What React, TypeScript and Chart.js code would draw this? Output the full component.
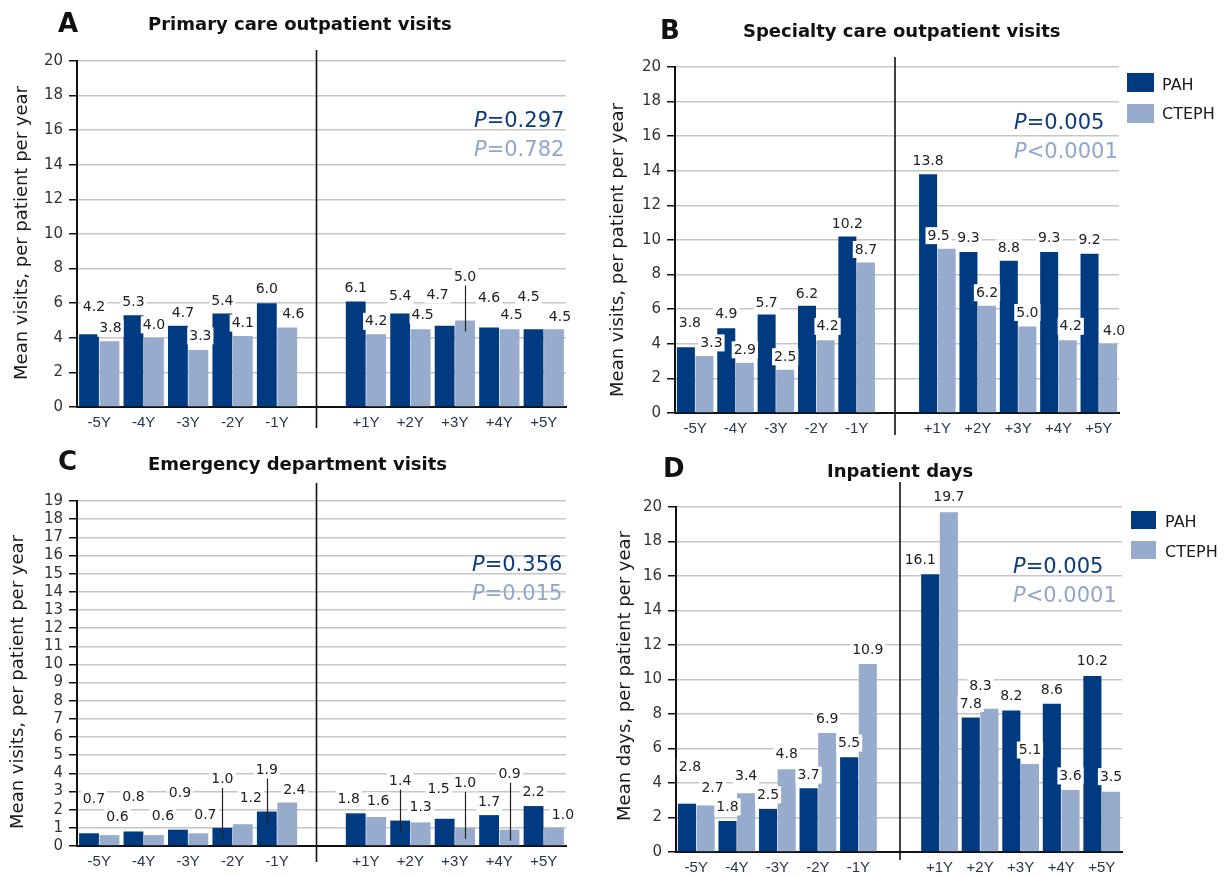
import React, { useEffect, useRef } from 'react';
import { Chart, registerables } from 'chart.js';

Chart.register(...registerables);

// ---------- data ----------
const beforeLabels = ['-5Y', '-4Y', '-3Y', '-2Y', '-1Y'];
const afterLabels = ['+1Y', '+2Y', '+3Y', '+4Y', '+5Y'];
const seriesNames = ['PAH', 'CTEPH'];

const primaryPAH = [4.2, 5.3, 4.7, 5.4, 6.0, 6.1, 5.4, 4.7, 4.6, 4.5];
const primaryCTEPH = [3.8, 4.0, 3.3, 4.1, 4.6, 4.2, 4.5, 5.0, 4.5, 4.5];
const specialtyPAH = [3.8, 4.9, 5.7, 6.2, 10.2, 13.8, 9.3, 8.8, 9.3, 9.2];
const specialtyCTEPH = [3.3, 2.9, 2.5, 4.2, 8.7, 9.5, 6.2, 5.0, 4.2, 4.0];
const emergencyPAH = [0.7, 0.8, 0.9, 1.0, 1.9, 1.8, 1.4, 1.5, 1.7, 2.2];
const emergencyCTEPH = [0.6, 0.6, 0.7, 1.2, 2.4, 1.6, 1.3, 1.0, 0.9, 1.0];
const inpatientPAH = [2.8, 1.8, 2.5, 3.7, 5.5, 16.1, 7.8, 8.2, 8.6, 10.2];
const inpatientCTEPH = [2.7, 3.4, 4.8, 6.9, 10.9, 19.7, 8.3, 5.1, 3.6, 3.5];

// ---------- label placement (px lift above bar top, px x-shift, leader lines) ----------
const primaryPAHLift = [27, 13, 13, 13, 14, 14, 18, 31, 30, 32];
const primaryCTEPHLift = [13, 13, 14, 13, 14, 13, 14, 44, 14, 12];
const primaryPAHDx = [5, 0, 5, 0, 0, 0, 0, -7, 0, -5];
const primaryCTEPHDx = [1, 0, 2, 0, 6, 0, 2, 0, 2, 6];
const primaryPAHLeaders: number[] = [];
const primaryCTEPHLeaders = [7];

const specialtyPAHLift = [24, 14, 12, 12, 13, 13, 14, 13, 14, 14];
const specialtyCTEPHLift = [13, 13, 13, 14, 13, 13, 13, 14, 14, 13];
const specialtyPAHDx = [4, 0, 0, 0, 0, 0, 0, 0, 0, 0];
const specialtyCTEPHDx = [7, 0, 0, 2, 0, -8, 0, 0, 3, 6];
const specialtyPAHLeaders: number[] = [];
const specialtyCTEPHLeaders: number[] = [];

const emergencyPAHLift = [34, 35, 37, 49, 42, 14, 40, 30, 13, 14];
const emergencyCTEPHLift = [18, 19, 18, 26, 13, 16, 16, 45, 56, 13];
const emergencyPAHDx = [5, 0, 2, 0, 0, -7, 0, -6, 0, 0];
const emergencyCTEPHDx = [8, 9, 7, 8, 7, 2, 0, 0, 0, 9];
const emergencyPAHLeaders = [3, 4, 6];
const emergencyCTEPHLeaders = [7, 8];

const inpatientPAHLift = [37, 14, 14, 13, 14, 14, 14, 15, 14, 15];
const inpatientCTEPHLift = [18, 17, 15, 14, 14, 15, 23, 14, 14, 15];
const inpatientPAHDx = [3, 0, 0, 0, 0, -10, 0, 0, 0, 0];
const inpatientCTEPHDx = [7, 0, 0, 0, 0, 0, -9, 0, 0, 0];
const inpatientPAHLeaders: number[] = [];
const inpatientCTEPHLeaders: number[] = [];

// ---------- styles ----------
const PAH_COLOR = '#003b82';
const CTEPH_COLOR = '#97abcd';
const P_DARK = '#0c3a7c';
const P_LIGHT = '#8fa7cd';
const FONT = '"DejaVu Sans", Verdana, sans-serif';
const ARIAL = '"Liberation Sans", Arial, sans-serif';
const X_AXIS_H = 24;

const withGap = <T,>(arr: T[]): (T | null)[] => [...arr.slice(0, 5), null, ...arr.slice(5)];
const categories = [...beforeLabels, '', ...afterLabels];

type Panel = {
  letter: string;
  title: string;
  yTitle: string;
  pah: number[];
  cteph: number[];
  lifts: number[][];
  dxs: number[][];
  leaders: number[][];
  yMax: number;
  yStep: number;
  pDark: string;
  pLight: string;
  canvas: { left: number; top: number; w: number; h: number };
  area: { l: number; r: number; t: number; b: number };
  letterPos: [number, number];
  titlePos: [number, number];
  yTitlePos: [number, number];
  pDarkPos: [number, number];
  pLightPos: [number, number];
  legend?: { x: number; ys: number[]; bw: number; bh: number; tx: number; tys: number[] };
  divShift: number;
  divTop: number;
  divBottom: number;
};

const panels: Panel[] = [
  {
    letter: 'A', title: 'Primary care outpatient visits', yTitle: 'Mean visits, per patient per year',
    pah: primaryPAH, cteph: primaryCTEPH,
    lifts: [primaryPAHLift, primaryCTEPHLift], dxs: [primaryPAHDx, primaryCTEPHDx],
    leaders: [primaryPAHLeaders, primaryCTEPHLeaders],
    yMax: 20, yStep: 2, pDark: '=0.297', pLight: '=0.782',
    canvas: { left: 0, top: 0, w: 615, h: 440 }, area: { l: 77, r: 566, t: 61, b: 407 },
    letterPos: [58, 32], titlePos: [148, 30], yTitlePos: [27, 233],
    pDarkPos: [474, 127], pLightPos: [474, 156],
    divShift: -5, divTop: 11, divBottom: 21,
  },
  {
    letter: 'B', title: 'Specialty care outpatient visits', yTitle: 'Mean visits, per patient per year',
    pah: specialtyPAH, cteph: specialtyCTEPH,
    lifts: [specialtyPAHLift, specialtyCTEPHLift], dxs: [specialtyPAHDx, specialtyCTEPHDx],
    leaders: [specialtyPAHLeaders, specialtyCTEPHLeaders],
    yMax: 20, yStep: 2, pDark: '=0.005', pLight: '<0.0001',
    canvas: { left: 600, top: 0, w: 626, h: 440 }, area: { l: 675, r: 1119, t: 67, b: 413 },
    letterPos: [660, 39], titlePos: [743, 37], yTitlePos: [623, 250],
    pDarkPos: [1014, 129], pLightPos: [1014, 158],
    legend: { x: 1127, ys: [73, 104], bw: 27, bh: 19, tx: 1162, tys: [90, 119] },
    divShift: -2, divTop: 10, divBottom: 22,
  },
  {
    letter: 'C', title: 'Emergency department visits', yTitle: 'Mean visits, per patient per year',
    pah: emergencyPAH, cteph: emergencyCTEPH,
    lifts: [emergencyPAHLift, emergencyCTEPHLift], dxs: [emergencyPAHDx, emergencyCTEPHDx],
    leaders: [emergencyPAHLeaders, emergencyCTEPHLeaders],
    yMax: 19, yStep: 1, pDark: '=0.356', pLight: '=0.015',
    canvas: { left: 0, top: 440, w: 615, h: 437 }, area: { l: 77, r: 566, t: 501, b: 846 },
    letterPos: [58, 470], titlePos: [148, 470], yTitlePos: [23, 682],
    pDarkPos: [472, 571], pLightPos: [472, 600],
    divShift: -5, divTop: 18, divBottom: 16,
  },
  {
    letter: 'D', title: 'Inpatient days', yTitle: 'Mean days, per patient per year',
    pah: inpatientPAH, cteph: inpatientCTEPH,
    lifts: [inpatientPAHLift, inpatientCTEPHLift], dxs: [inpatientPAHDx, inpatientCTEPHDx],
    leaders: [inpatientPAHLeaders, inpatientCTEPHLeaders],
    yMax: 20, yStep: 2, pDark: '=0.005', pLight: '<0.0001',
    canvas: { left: 600, top: 440, w: 626, h: 437 }, area: { l: 676, r: 1122, t: 507, b: 852 },
    letterPos: [663, 477], titlePos: [827, 477], yTitlePos: [630, 676],
    pDarkPos: [1013, 573], pLightPos: [1013, 602],
    legend: { x: 1131, ys: [511, 541], bw: 25, bh: 18, tx: 1165, tys: [527, 557] },
    divShift: 1, divTop: 25, divBottom: 8,
  },
];

const makePlugin = (p: Panel) => ({
  id: 'annot' + p.letter,
  afterDatasetsDraw(chart: any) {
    const ctx: CanvasRenderingContext2D = chart.ctx;
    const ox = p.canvas.left;
    const oy = p.canvas.top;
    const xs = chart.scales.x;
    const area = chart.chartArea;
    ctx.save();

    // divider between before / after
    const gx = xs.getPixelForValue(5) + p.divShift;
    ctx.strokeStyle = '#111';
    ctx.lineWidth = 1.6;
    ctx.beginPath();
    ctx.moveTo(gx, area.top - p.divTop);
    ctx.lineTo(gx, area.bottom + p.divBottom);
    ctx.stroke();

    // data labels
    ctx.font = `14px ${FONT}`;
    ctx.textAlign = 'center';
    ctx.textBaseline = 'middle';
    const leaderLines: number[][] = [];
    [0, 1].forEach((di) => {
      const meta = chart.getDatasetMeta(di);
      const values = chart.data.datasets[di].data as (number | null)[];
      const lifts = withGap(p.lifts[di]);
      const dxs = withGap(p.dxs[di]);
      const leaders = withGap(p.pah.map((_, i) => p.leaders[di].includes(i)));
      meta.data.forEach((el: any, i: number) => {
        const v = values[i];
        if (v == null) return;
        const { x, y } = el.getProps(['x', 'y'], true);
        const ly = y - (lifts[i] as number);
        const lx = x + (leaders[i] ? 0 : (dxs[i] as number));
        const txt = v.toFixed(1);
        const w = ctx.measureText(txt).width + 4;
        ctx.fillStyle = '#ffffff';
        ctx.fillRect(lx - w / 2, ly - 8.5, w, 17);
        ctx.fillStyle = '#222';
        ctx.fillText(txt, lx, ly + 0.5);
        if (leaders[i]) leaderLines.push([x, ly + 9, y + 11]);
      });
    });
    ctx.strokeStyle = '#222';
    ctx.lineWidth = 1.2;
    leaderLines.forEach(([x, y1, y2]) => {
      ctx.beginPath();
      ctx.moveTo(Math.round(x) + 0.5, y1);
      ctx.lineTo(Math.round(x) + 0.5, y2);
      ctx.stroke();
    });

    // letter and title
    ctx.textAlign = 'left';
    ctx.textBaseline = 'alphabetic';
    ctx.fillStyle = '#111';
    ctx.font = `bold 26px ${FONT}`;
    ctx.fillText(p.letter, p.letterPos[0] - ox, p.letterPos[1] - oy);
    ctx.font = `bold 18px ${FONT}`;
    ctx.fillText(p.title, p.titlePos[0] - ox, p.titlePos[1] - oy);

    // y title
    ctx.save();
    ctx.translate(p.yTitlePos[0] - ox, p.yTitlePos[1] - oy);
    ctx.rotate(-Math.PI / 2);
    ctx.textAlign = 'center';
    ctx.fillStyle = '#1a1a1a';
    ctx.font = `18px ${FONT}`;
    ctx.fillText(p.yTitle, 0, 0);
    ctx.restore();

    // P values
    const drawP = (rest: string, pos: [number, number], color: string) => {
      ctx.fillStyle = color;
      ctx.font = `italic 21px ${FONT}`;
      ctx.fillText('P', pos[0] - ox, pos[1] - oy);
      const w = ctx.measureText('P').width;
      ctx.font = `21px ${FONT}`;
      ctx.fillText(rest, pos[0] - ox + w, pos[1] - oy);
    };
    drawP(p.pDark, p.pDarkPos, P_DARK);
    drawP(p.pLight, p.pLightPos, P_LIGHT);

    // legend
    if (p.legend) {
      const lg = p.legend;
      [PAH_COLOR, CTEPH_COLOR].forEach((c, i) => {
        ctx.fillStyle = c;
        ctx.fillRect(lg.x - ox, lg.ys[i] - oy, lg.bw, lg.bh);
        ctx.fillStyle = '#1a1a1a';
        ctx.font = `16px ${FONT}`;
        ctx.fillText(seriesNames[i], lg.tx - ox, lg.tys[i] - oy);
      });
    }
    ctx.restore();
  },
});

function PanelChart({ p }: { p: Panel }) {
  const ref = useRef<HTMLCanvasElement>(null);
  useEffect(() => {
    if (!ref.current) return;
    const chart = new Chart(ref.current, {
      type: 'bar',
      data: {
        labels: categories,
        datasets: [
          {
            label: seriesNames[0], data: withGap(p.pah), backgroundColor: PAH_COLOR,
            borderWidth: 0, categoryPercentage: 0.92, barPercentage: 0.97,
          },
          {
            label: seriesNames[1], data: withGap(p.cteph), backgroundColor: CTEPH_COLOR,
            borderWidth: 0, categoryPercentage: 0.92, barPercentage: 0.97,
          },
        ],
      },
      options: {
        responsive: false,
        animation: false,
        layout: {
          padding: {
            left: 0,
            top: p.area.t - p.canvas.top,
            right: p.canvas.w - (p.area.r - p.canvas.left),
            bottom: p.canvas.h - (p.area.b - p.canvas.top) - X_AXIS_H,
          },
        },
        plugins: {
          legend: { display: false },
          tooltip: { enabled: false },
          title: { display: false },
        },
        scales: {
          x: {
            type: 'category',
            offset: true,
            grid: { display: false, drawTicks: false },
            border: { display: true, color: '#111', width: 2 },
            ticks: {
              color: '#2a3352', font: { family: ARIAL, size: 15 }, padding: 7,
              autoSkip: false, maxRotation: 0, minRotation: 0,
            },
            afterFit: (s: any) => { s.height = X_AXIS_H; },
          },
          y: {
            min: 0,
            max: p.yMax,
            ticks: {
              stepSize: p.yStep, autoSkip: false, color: '#333',
              font: { family: FONT, size: 15 }, padding: 6,
            },
            grid: { color: '#c6c6c6', lineWidth: 1.5, tickColor: '#111', tickLength: 8, tickWidth: 1.5 },
            border: { display: true, color: '#111', width: 2 },
            afterFit: (s: any) => { s.width = p.area.l - p.canvas.left; },
          },
        },
      } as any,
      plugins: [makePlugin(p)],
    });
    return () => chart.destroy();
  }, [p]);
  return (
    <canvas
      ref={ref}
      width={p.canvas.w}
      height={p.canvas.h}
      style={{ position: 'absolute', left: p.canvas.left, top: p.canvas.top, width: p.canvas.w, height: p.canvas.h }}
    />
  );
}

export default function App() {
  return (
    <div style={{ position: 'fixed', left: 0, top: 0, width: 1226, height: 877, background: '#ffffff', overflow: 'hidden' }}>
      {panels.map((p) => (
        <PanelChart key={p.letter} p={p} />
      ))}
    </div>
  );
}
